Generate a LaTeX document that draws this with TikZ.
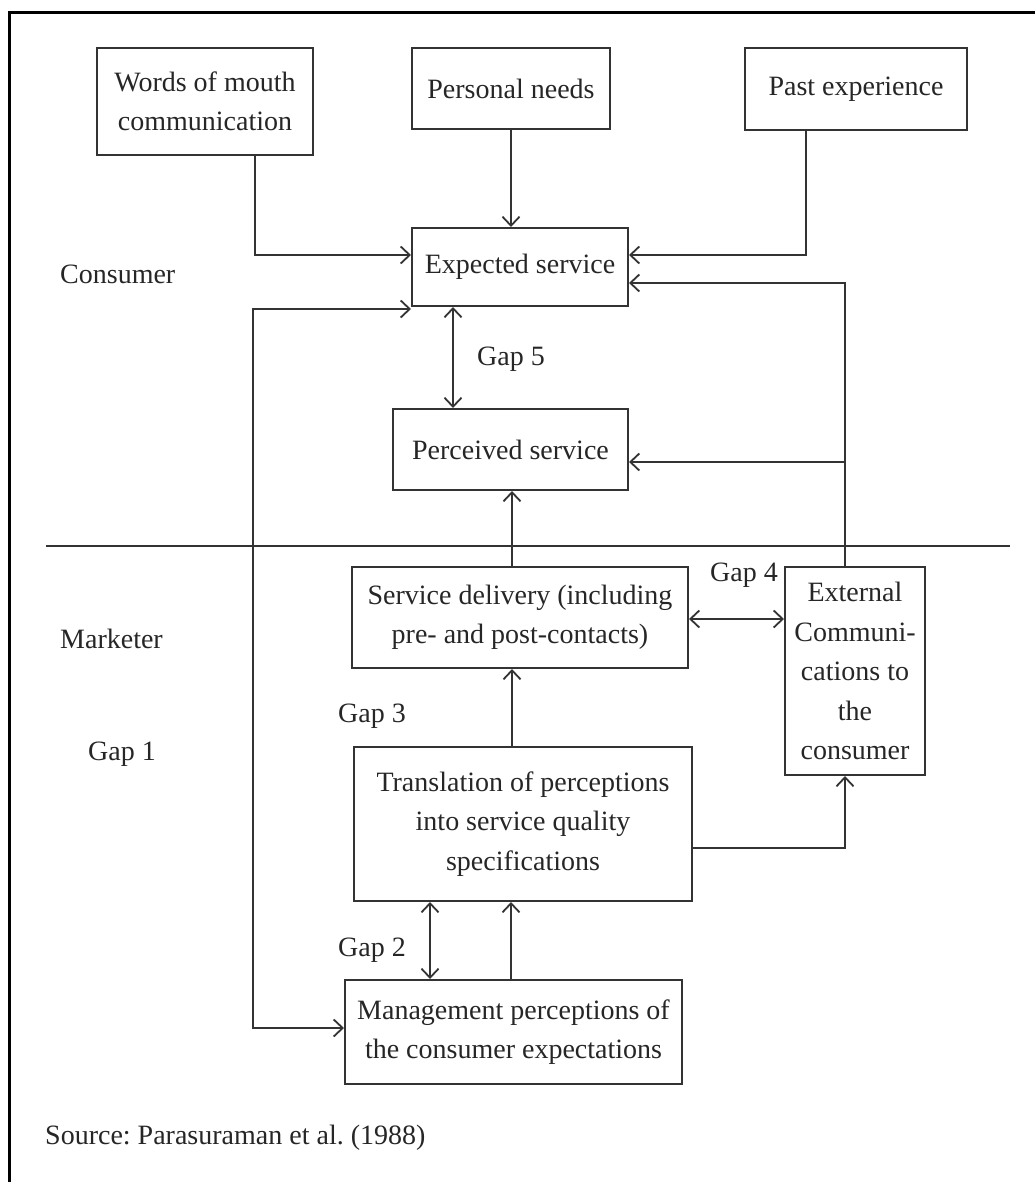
\documentclass[tikz,border=0pt]{standalone}
\usepackage{fontspec}
\setmainfont{Liberation Serif}
\usetikzlibrary{arrows.meta}
\frenchspacing
\begin{document}
\begin{tikzpicture}[x=1pt,y=-1pt,
  every node/.style={font=\fontsize{28}{39.5}\selectfont, text=black!85},
  box/.style={draw=black!80, line width=2pt, inner sep=0pt, align=center},
  conn/.style={draw=black!80, line width=1.8pt, arrows={-Straight Barb[length=9pt,width=17pt,line width=1.8pt]}},
  dconn/.style={draw=black!80, line width=1.8pt, arrows={Straight Barb[length=9pt,width=17pt,line width=1.8pt]-Straight Barb[length=9pt,width=17pt,line width=1.8pt]}},
  lbl/.style={anchor=base west, inner sep=0pt}]
\useasboundingbox (0,0) rectangle (1035,1182);
% frame
\draw[line width=3pt] (9,1182) -- (9,13) -- (1035,13);
% boxes
\node[box, minimum width=216, minimum height=107] (wom) at (205,101.5) {Words of mouth\\communication};
\node[box, minimum width=198, minimum height=81] (pn) at (511,88.5) {Personal needs};
\node[box, minimum width=222, minimum height=82] (pe) at (856,89) {Past experience};
\node[box, minimum width=216, minimum height=78] (es) at (520,267) {Expected service};
\node[box, minimum width=235, minimum height=81] (ps) at (510.5,449.5) {Perceived service};
\node[box, minimum width=336, minimum height=101] (sd) at (520,617.5) {Service delivery (including\\pre- and post-contacts)};
\node[box, minimum width=140, minimum height=208] (ext) at (855,671) {External\\Communi-\\cations to\\the\\consumer};
\node[box, minimum width=338, minimum height=154] (tr) at (523,824) {Translation of perceptions\\into service quality\\specifications};
\node[box, minimum width=337, minimum height=104] (mp) at (513.5,1032) {Management perceptions of\\the consumer expectations};
% divider
\draw[line width=1.8pt, black!80] (46,546) -- (1010,546);
% labels
\node[lbl] (consumer) at (60,283) {Consumer};
\node[lbl] (gap5) at (477,365) {Gap 5};
\node[lbl] (marketer) at (60,648) {Marketer};
\node[lbl] (gap3) at (338,722) {Gap 3};
\node[lbl] (gap1) at (88,760) {Gap 1};
\node[lbl] (gap4) at (710,581) {Gap 4};
\node[lbl] (gap2) at (338,956) {Gap 2};
\node[lbl] (source) at (45,1144) {Source: Parasuraman et al. (1988)};
% connectors
\draw[conn] (wom.south -| 255,0) |- (es.west |- 0,255);
\draw[conn] (pn.south) -- (pn.south |- es.north);
\draw[conn] (pe.south -| 806,0) |- (es.east |- 0,255);
\coordinate (j) at (845,462);
\draw[conn] (ext.north -| 845,0) |- (es.east |- 0,283);
\draw[conn] (j) -- (ps.east |- j);
\draw[dconn] (es.south -| 453,0) -- (ps.north -| 453,0);
\draw[dconn] (es.west |- 0,309) -| (253,1028) -- (mp.west |- 0,1028);
\draw[conn] (sd.north -| 512,0) -- (ps.south -| 512,0);
\draw[conn] (tr.north -| 512,0) -- (sd.south -| 512,0);
\draw[dconn] (sd.east |- 0,619) -- (ext.west |- 0,619);
\draw[conn] (tr.east |- 0,848) -| (ext.south -| 845,0);
\draw[dconn] (tr.south -| 430,0) -- (mp.north -| 430,0);
\draw[conn] (mp.north -| 511,0) -- (tr.south -| 511,0);
\end{tikzpicture}
\end{document}
